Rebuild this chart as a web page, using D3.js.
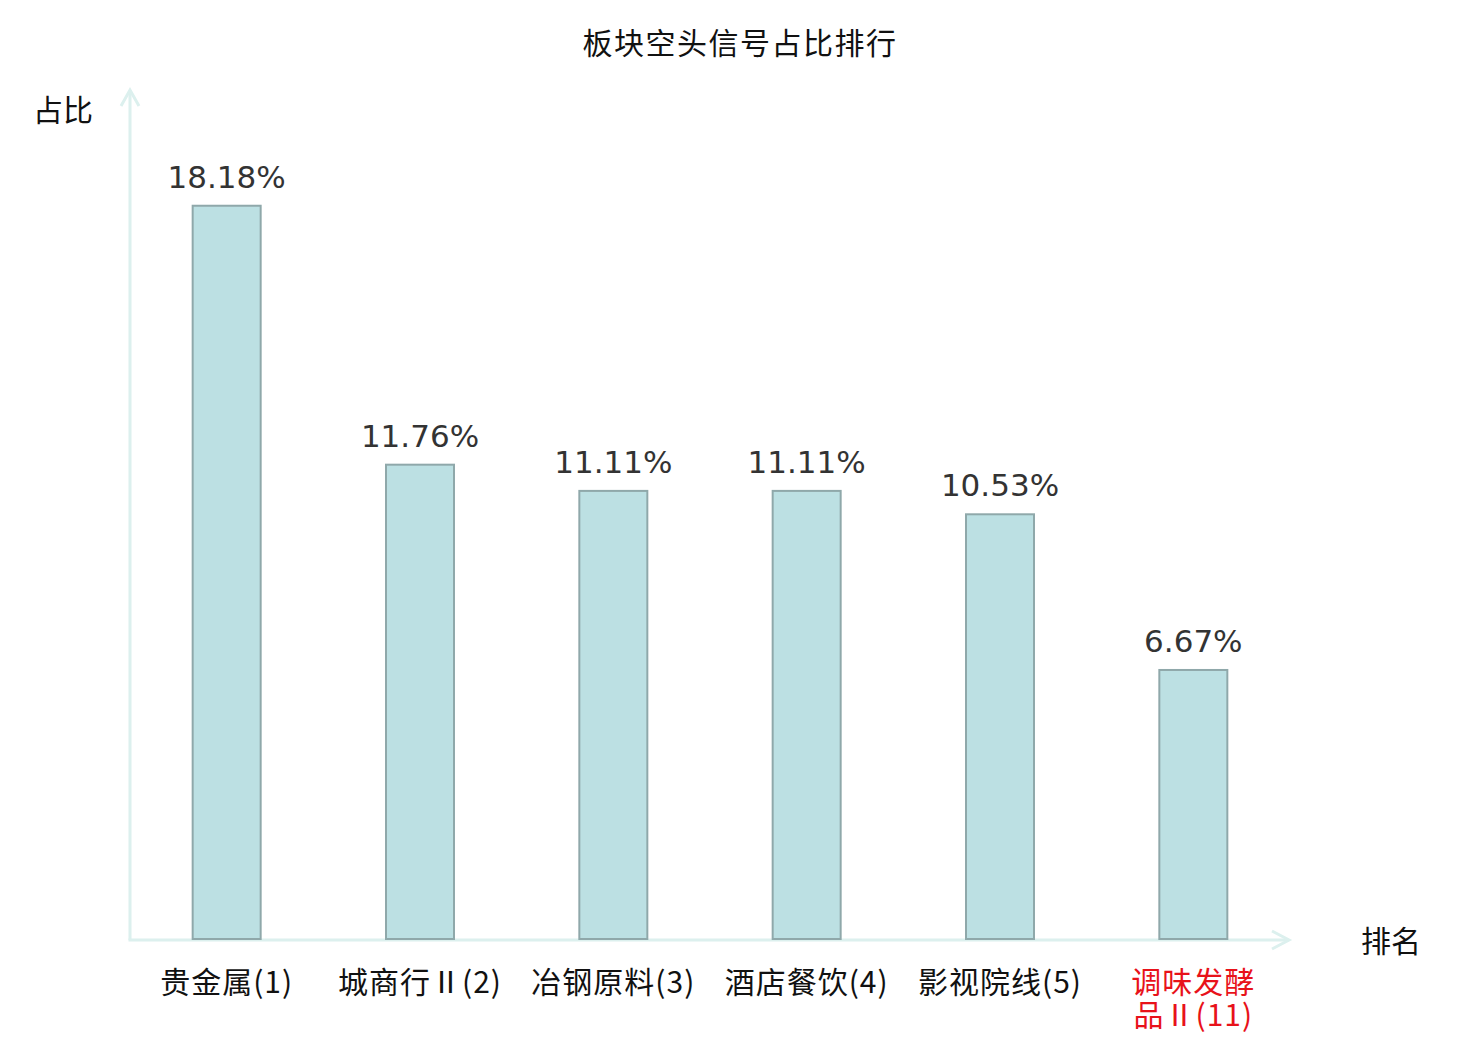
<!DOCTYPE html>
<html>
<head>
<meta charset="utf-8">
<script src="https://cdn.jsdelivr.net/npm/d3@7"></script>
<style>
  body { margin: 0; background: #fff; }
  text { font-family: "Noto Sans CJK SC", "DejaVu Sans", sans-serif; }
</style>
</head>
<body>
<div class="chart"></div>
<script>
const categories = ['贵金属(1)', '城商行Ⅱ(2)', '冶钢原料(3)', '酒店餐饮(4)', '影视院线(5)', '调味发酵品Ⅱ(11)'];
const values = [18.18, 11.76, 11.11, 11.11, 10.53, 6.67];
const highlighted = [false, false, false, false, false, true];
// the long last label wraps onto two lines
const labelLines = [['贵金属(1)'], ['城商行Ⅱ(2)'], ['冶钢原料(3)'], ['酒店餐饮(4)'], ['影视院线(5)'], ['调味发酵', '品Ⅱ(11)']];

const width = 1480;
const height = 1040;
const axisX = 130;
const axisY = 940;
const axisColor = '#dcf0ee';

const svg = d3.select('.chart')
  .append('svg')
  .attr('width', width)
  .attr('height', height);

svg.append('text')
  .attr('x', 740)
  .attr('y', 54)
  .attr('text-anchor', 'middle')
  .attr('font-size', 30)
  .attr('letter-spacing', 1.5)
  .attr('fill', '#111')
  .text('板块空头信号占比排行');

const xScale = d3.scaleBand()
  .domain(d3.range(categories.length))
  .range([axisX, 1290]);

const yScale = d3.scaleLinear()
  .domain([0, 21])
  .range([axisY - 1, 92]);

const barWidth = 68;

// axes with open arrow heads
svg.append('line')
  .attr('x1', axisX).attr('y1', axisY)
  .attr('x2', axisX).attr('y2', 90)
  .attr('stroke', axisColor).attr('stroke-width', 3);
svg.append('path')
  .attr('d', `M${axisX - 9},${106} L${axisX},${90} L${axisX + 9},${106}`)
  .attr('fill', 'none').attr('stroke', axisColor).attr('stroke-width', 3);

svg.append('line')
  .attr('x1', axisX - 1.5).attr('y1', axisY)
  .attr('x2', 1289).attr('y2', axisY)
  .attr('stroke', axisColor).attr('stroke-width', 3);
svg.append('path')
  .attr('d', `M${1272},${axisY - 9} L${1289},${axisY} L${1272},${axisY + 9}`)
  .attr('fill', 'none').attr('stroke', axisColor).attr('stroke-width', 3);

svg.append('text')
  .attr('x', 33).attr('y', 121)
  .attr('font-size', 30).attr('fill', '#111')
  .text('占比');

svg.append('text')
  .attr('x', 1361).attr('y', 952)
  .attr('font-size', 30).attr('fill', '#111')
  .text('排名');

svg.selectAll('rect.bar')
  .data(values)
  .enter()
  .append('rect')
  .attr('class', 'bar')
  .attr('x', (d, i) => xScale(i) + xScale.bandwidth() / 2 - barWidth / 2)
  .attr('y', d => yScale(d))
  .attr('width', barWidth)
  .attr('height', d => yScale(0) - yScale(d))
  .attr('fill', '#bce0e3')
  .attr('stroke', '#8fa8aa')
  .attr('stroke-width', 2);

svg.selectAll('text.value')
  .data(values)
  .enter()
  .append('text')
  .attr('class', 'value')
  .attr('x', (d, i) => xScale(i) + xScale.bandwidth() / 2)
  .attr('y', d => yScale(d) - 18)
  .attr('text-anchor', 'middle')
  .attr('font-size', 31)
  .attr('fill', '#333')
  .style('font-family', '"DejaVu Sans", sans-serif')
  .text(d => `${d.toFixed(2)}%`);

const tickLabels = svg.selectAll('text.tick')
  .data(labelLines)
  .enter()
  .append('text')
  .attr('class', 'tick')
  .attr('x', (d, i) => xScale(i) + xScale.bandwidth() / 2)
  .attr('y', 993)
  .attr('text-anchor', 'middle')
  .attr('font-size', 30)
  .attr('letter-spacing', 1)
  .attr('fill', (d, i) => highlighted[i] ? '#e8121a' : '#111');

tickLabels.selectAll('tspan')
  .data(d => d)
  .enter()
  .append('tspan')
  .attr('x', function () { return d3.select(this.parentNode).attr('x'); })
  .attr('dy', (d, j) => j === 0 ? 0 : 33)
  .text(d => d);
</script>
</body>
</html>
